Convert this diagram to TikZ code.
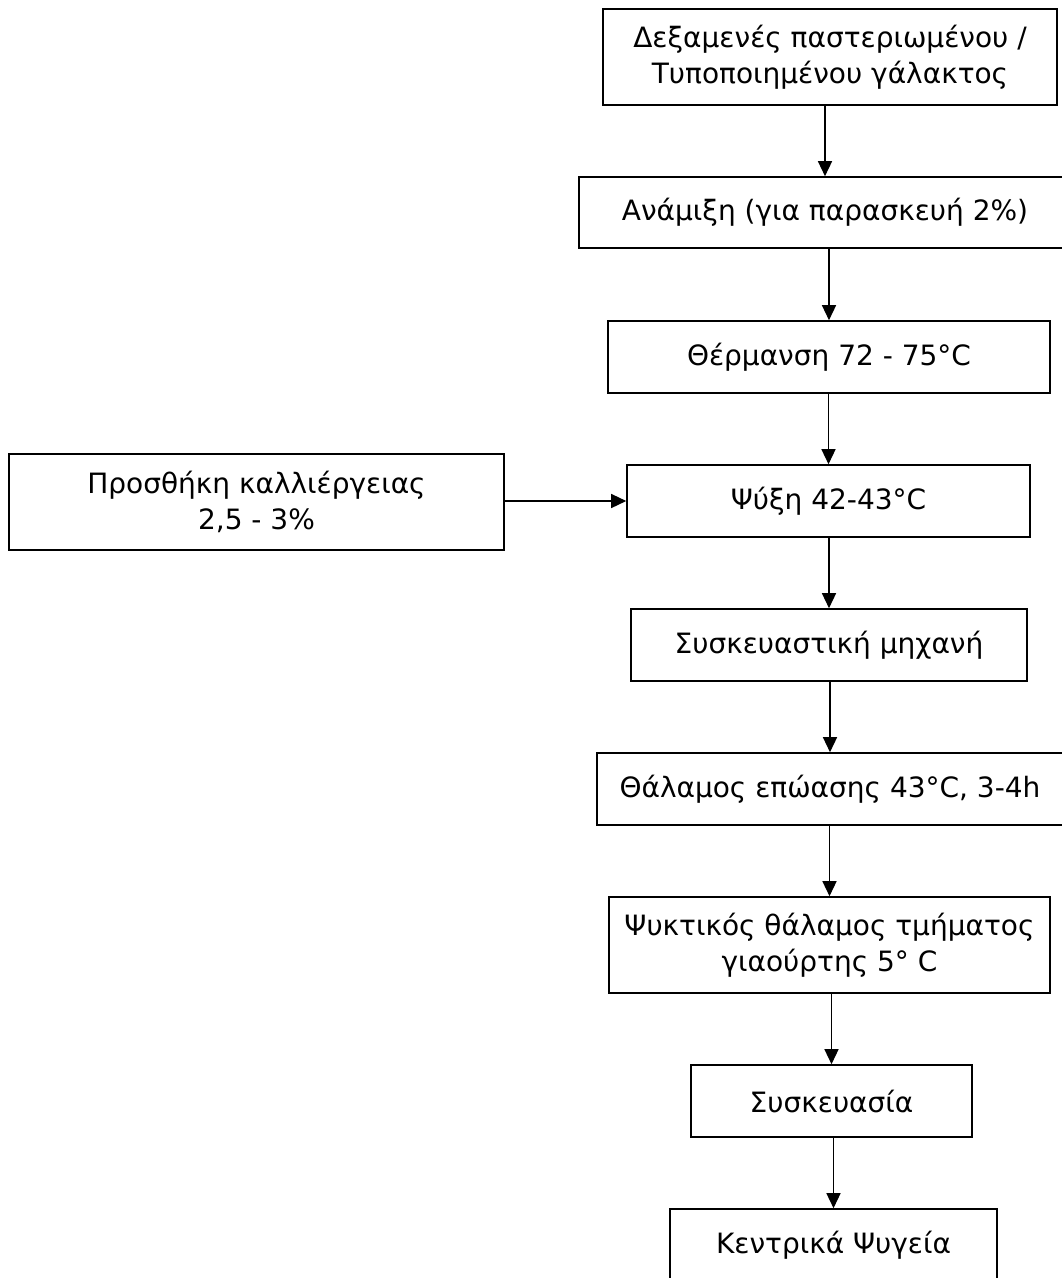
\documentclass[tikz,border=0pt]{standalone}
\usepackage{fontspec}
\setmainfont{DejaVu Sans}
\usetikzlibrary{arrows.meta}
\begin{document}
\begin{tikzpicture}[x=1pt,y=-1pt,
  stage/.style={draw, line width=1.6pt, align=center, inner sep=0pt,
    font=\fontsize{28}{36}\selectfont},
  flow/.style={line width=1.4pt, -{Triangle[length=15pt,width=14pt]}}]
\useasboundingbox[fill=white] (0,0) rectangle (1061,1278);

% process stages, top to bottom
\node[stage, minimum width=454, minimum height=96] (tanks)   at (830,57)
  {Δεξαμενές παστεριωμένου /\\Τυποποιημένου γάλακτος};
\node[stage, minimum width=492, minimum height=71] (mixing)  at (825,212.5)
  {Ανάμιξη (για παρασκευή 2\%)};
\node[stage, minimum width=442, minimum height=72] (heating) at (829,357)
  {Θέρμανση 72 - 75°C};
\node[stage, minimum width=403, minimum height=72] (cooling) at (828.5,501)
  {Ψύξη 42-43°C};
\node[stage, minimum width=495, minimum height=96] (culture) at (256.5,502)
  {Προσθήκη καλλιέργειας\\2,5 - 3\%};
\node[stage, minimum width=396, minimum height=72] (filler)  at (829,645)
  {Συσκευαστική μηχανή};
\node[stage, minimum width=466, minimum height=72] (incub)   at (830,789)
  {Θάλαμος επώασης 43°C, 3-4h};
\node[stage, minimum width=441, minimum height=96] (chill)   at (829.5,945)
  {Ψυκτικός θάλαμος τμήματος\\γιαούρτης 5° C};
\node[stage, minimum width=281, minimum height=72] (pack)    at (831.5,1101)
  {Συσκευασία};
\node[stage, minimum width=327, minimum height=72] (store)   at (833.5,1245)
  {Κεντρικά Ψυγεία};

% connectors
\draw[flow] (tanks.south -| mixing.north) -- (mixing.north);
\draw[flow] (mixing.south -| heating.north) -- (heating.north);
\draw[flow] (heating.south -| cooling.north) -- (cooling.north);
\draw[flow] (culture.east |- cooling.west) -- (cooling.west);
\draw[flow] (cooling.south -| filler.north) -- (filler.north);
\draw[flow] (filler.south -| incub.north) -- (incub.north);
\draw[flow] (incub.south -| chill.north) -- (chill.north);
\draw[flow] (chill.south -| pack.north) -- (pack.north);
\draw[flow] (pack.south -| store.north) -- (store.north);
\end{tikzpicture}
\end{document}
